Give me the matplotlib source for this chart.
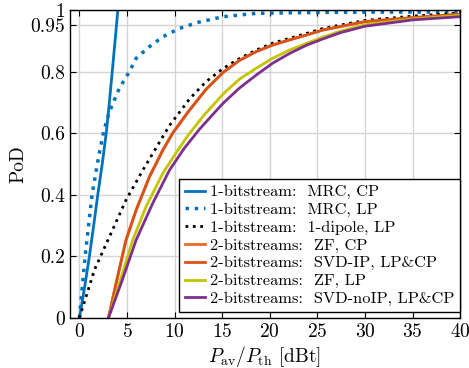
import matplotlib
matplotlib.use("Agg")
import matplotlib.pyplot as plt
import numpy as np

plt.rcParams['font.family'] = 'serif'
plt.rcParams['font.serif'] = ['cmr10', 'DejaVu Serif']
plt.rcParams['mathtext.fontset'] = 'cm'
plt.rcParams['axes.formatter.use_mathtext'] = True

# values (x in dBt, y = PoD)
mrc_cp_x = [0, 0.55, 1.05, 1.5, 1.93, 2.4, 2.82, 3.15, 3.45, 3.75, 4.04]
mrc_cp_y = [0, 0.1, 0.2, 0.3, 0.4, 0.5, 0.6, 0.7, 0.8, 0.9, 1.0]

mrc_lp_x = [0, 0.6, 1.33, 2.0, 2.56, 3.16, 4.2, 5.26, 5.96, 7.37, 8.77, 10.5,
            12.5, 15.1, 18.6, 25.6, 32, 40]
mrc_lp_y = [0, 0.2, 0.4, 0.52, 0.607, 0.67, 0.746, 0.8, 0.843, 0.881, 0.913, 0.94,
            0.96, 0.978, 0.989, 0.992, 0.993, 0.993]

dip_x = [0, 1.58, 3.16, 4.9, 6.67, 8.77, 9.47, 11.6, 13.3, 15.1, 16.8, 18.6,
         20.3, 22.1, 23.9, 25.6, 30, 35.1, 40]
dip_y = [0, 0.156, 0.264, 0.383, 0.48, 0.589, 0.625, 0.712, 0.767, 0.81, 0.842, 0.87,
         0.892, 0.908, 0.924, 0.94, 0.966, 0.98, 0.99]

zf_cp_x = [3.05, 3.86, 4.9, 5.96, 7.37, 8.77, 9.8, 11.4, 13.3, 15.1, 16.8, 18.6,
           20.3, 22.1, 23.9, 25.6, 30, 35.1, 40]
zf_cp_y = [0, 0.113, 0.253, 0.35, 0.459, 0.545, 0.6, 0.668, 0.742, 0.797, 0.836, 0.865,
           0.886, 0.903, 0.919, 0.935, 0.962, 0.975, 0.986]

svd_ip_x = [3.05, 3.86, 4.9, 5.96, 7.37, 8.77, 9.8, 11.4, 13.3, 15.1, 16.8, 18.6,
            20.3, 22.1, 23.9, 25.6, 30, 35.1, 40]
svd_ip_y = [0, 0.113, 0.253, 0.35, 0.459, 0.545, 0.6, 0.668, 0.742, 0.797, 0.836, 0.865,
            0.886, 0.903, 0.919, 0.935, 0.962, 0.975, 0.986]

zf_lp_x = [3.05, 4.2, 5.6, 7.0, 8.77, 10.5, 11.4, 13.0, 15.1, 16.8, 18.6, 20.3,
           22.1, 23.9, 25.6, 27.4, 30, 35.1, 40]
zf_lp_y = [0, 0.113, 0.253, 0.361, 0.47, 0.552, 0.592, 0.655, 0.727, 0.775, 0.811, 0.843,
           0.87, 0.892, 0.912, 0.931, 0.952, 0.971, 0.982]

svd_noip_x = [3.05, 4.39, 5.96, 7.7, 9.47, 11.0, 12.6, 14.0, 15.1, 16.8, 18.6, 20.3,
              22.1, 23.9, 25.6, 27.4, 30, 35.1, 40]
svd_noip_y = [0, 0.113, 0.253, 0.372, 0.48, 0.55, 0.612, 0.66, 0.697, 0.746, 0.789, 0.827,
              0.859, 0.886, 0.906, 0.926, 0.947, 0.968, 0.978]

x_ticks = [0, 5, 10, 15, 20, 25, 30, 35, 40]
y_ticks = [0, 0.2, 0.4, 0.6, 0.8, 0.95, 1]
y_ticklabels = ['0', '0.2', '0.4', '0.6', '0.8', '0.95', '1']

fig = plt.figure(figsize=(4.69, 3.68), dpi=100)
ax = fig.add_axes([0.149, 0.136, 0.832, 0.837])

lw = 2.0
ax.plot(mrc_cp_x, mrc_cp_y, '-', color='#0072bd', lw=lw, label='1-bitstream:  MRC, CP')
ax.plot(mrc_lp_x, mrc_lp_y, ':', color='#0072bd', lw=2.5, label='1-bitstream:  MRC, LP')
ax.plot(dip_x, dip_y, ':', color='black', lw=2.0, label='1-bitstream:  1-dipole, LP')
ax.plot(zf_cp_x, zf_cp_y, '-', color='#e8692f', lw=lw, label='2-bitstreams:  ZF, CP')
ax.plot(svd_ip_x, svd_ip_y, '-', color='#d95319', lw=lw, label='2-bitstreams:  SVD-IP, LP&CP')
ax.plot(zf_lp_x, zf_lp_y, '-', color='#c4c400', lw=lw, label='2-bitstreams:  ZF, LP')
ax.plot(svd_noip_x, svd_noip_y, '-', color='#7e2f8e', lw=lw, label='2-bitstreams:  SVD-noIP, LP&CP')

ax.set_xlim(-1, 40)
ax.set_ylim(0, 1)
ax.set_xticks(x_ticks)
ax.set_yticks(y_ticks)
ax.set_yticklabels(y_ticklabels)
ax.tick_params(direction='in', top=True, right=True, labelsize=14, length=4)
ax.grid(True, color='#d4d4d4', lw=1.0)
ax.set_axisbelow(True)
for s in ax.spines.values():
    s.set_linewidth(1.0)

ax.set_xlabel(r'$P_\mathrm{av}/P_\mathrm{th}$ [dBt]', fontsize=14, labelpad=2)
ax.set_ylabel('PoD', fontsize=14, labelpad=2)

leg = ax.legend(loc='lower right', bbox_to_anchor=(1.0, 0.02), fontsize=11.8,
                frameon=True, fancybox=False, framealpha=1,
                edgecolor='black', handlelength=1.25, handletextpad=0.3,
                labelspacing=0.2, borderpad=0.35, borderaxespad=0.0)
leg.get_frame().set_linewidth(1.0)

fig.savefig('out.png', dpi=100)
